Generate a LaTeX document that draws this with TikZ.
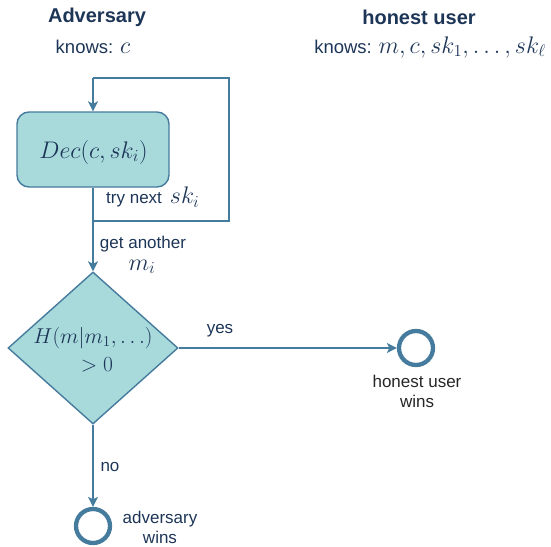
\RequirePackage{fix-cm}
\documentclass[tikz,border=0pt]{standalone}
\usepackage[no-math]{fontspec}
\setmainfont{Liberation Sans}
\usetikzlibrary{arrows.meta,shapes.geometric}
\definecolor{navy}{HTML}{1D3557}
\definecolor{steel}{HTML}{457B9D}
\definecolor{aqua}{HTML}{A8DADC}
\newcommand{\mfs}[1]{{\fontsize{24}{28}\selectfont$#1$}}
\newcommand{\mtest}[1]{{\fontsize{21.5}{26}\selectfont$#1$}}
\begin{document}
\begin{tikzpicture}[x=1pt,y=-1pt,
  txt/.style={text=navy,font=\fontsize{17}{20}\selectfont,inner sep=0pt,align=center},
  know/.style={text=navy,font=\fontsize{18.5}{22}\selectfont,inner sep=0pt},
  ttl/.style={text=navy,font=\fontsize{20}{24}\selectfont\bfseries,inner sep=0pt},
  flow/.style={draw=steel,line width=1.6pt},
  arr/.style={flow,-{Stealth[length=10pt,width=10pt,inset=2.5pt]}},
  procbox/.style={draw=steel,fill=aqua,line width=1.4pt,rounded corners=12pt,
    minimum width=152pt,minimum height=75pt,inner sep=0pt},
  decision/.style={draw=steel,fill=aqua,line width=1.4pt,diamond,
    minimum width=170pt,minimum height=152pt,inner sep=0pt},
  endstate/.style={circle,draw=steel,line width=4.3pt,minimum size=34pt,inner sep=0pt}]
\useasboundingbox (0,0) rectangle (551,546);

% roles and what each one knows
\node[ttl] (adv) at (97,17) {Adversary};
\node[know] (advk) at (93,47) {knows: \mfs{c}};
\node[ttl] (hon) at (419,17) {honest user};
\node[know] (honk) at (430,47) {knows: \mfs{m, c, sk_1, \ldots, sk_\ell}};

% decryption step and entropy test
\node[procbox] (dec) at (93,149.5) {};
\node[inner sep=0pt,text=navy] (dectxt) at (93.5,152) {\mfs{Dec(c, sk_i)}};
\node[decision] (test) at (93,348) {};
\node[inner sep=0pt,text=navy] (testup) at (93,338) {\mtest{H(m|m_1,\ldots)}};
\node[inner sep=0pt,text=navy] (testdn) at (97,365) {\mtest{>0}};

% outcomes
\node[endstate] (uwin) at (416,348) {};
\node[txt,text=black!85] (uwinl) at (417,391) {honest user\\wins};
\node[endstate] (awin) at (93,526) {};
\node[txt] (awinl) at (160,527) {adversary\\wins};

% loop back over the keys
\coordinate (loopBL) at (93,221);
\coordinate (loopBR) at (229,221);
\coordinate (loopTL) at (93,78);
\draw[flow] (loopBL) -- (loopBR) |- (loopTL);
\draw[arr] (loopTL) -- (dec.north);
\draw[arr] (dec.south) -- (test.north);
\draw[arr] (test.east) -- (uwin.west);
\draw[arr] (test.south) -- (awin.north);

% connector labels
\node[txt,anchor=west] (trylbl) at (106,197) {try next\hspace{8pt}\mfs{sk_i}};
\node[txt] (getlbl) at (143,244) {get another};
\node[inner sep=0pt,text=navy] (getm) at (142,267) {\mfs{m_i}};
\node[txt] (yeslbl) at (220,331) {yes};
\node[txt] (nolbl) at (110,467) {no};
\end{tikzpicture}
\end{document}
